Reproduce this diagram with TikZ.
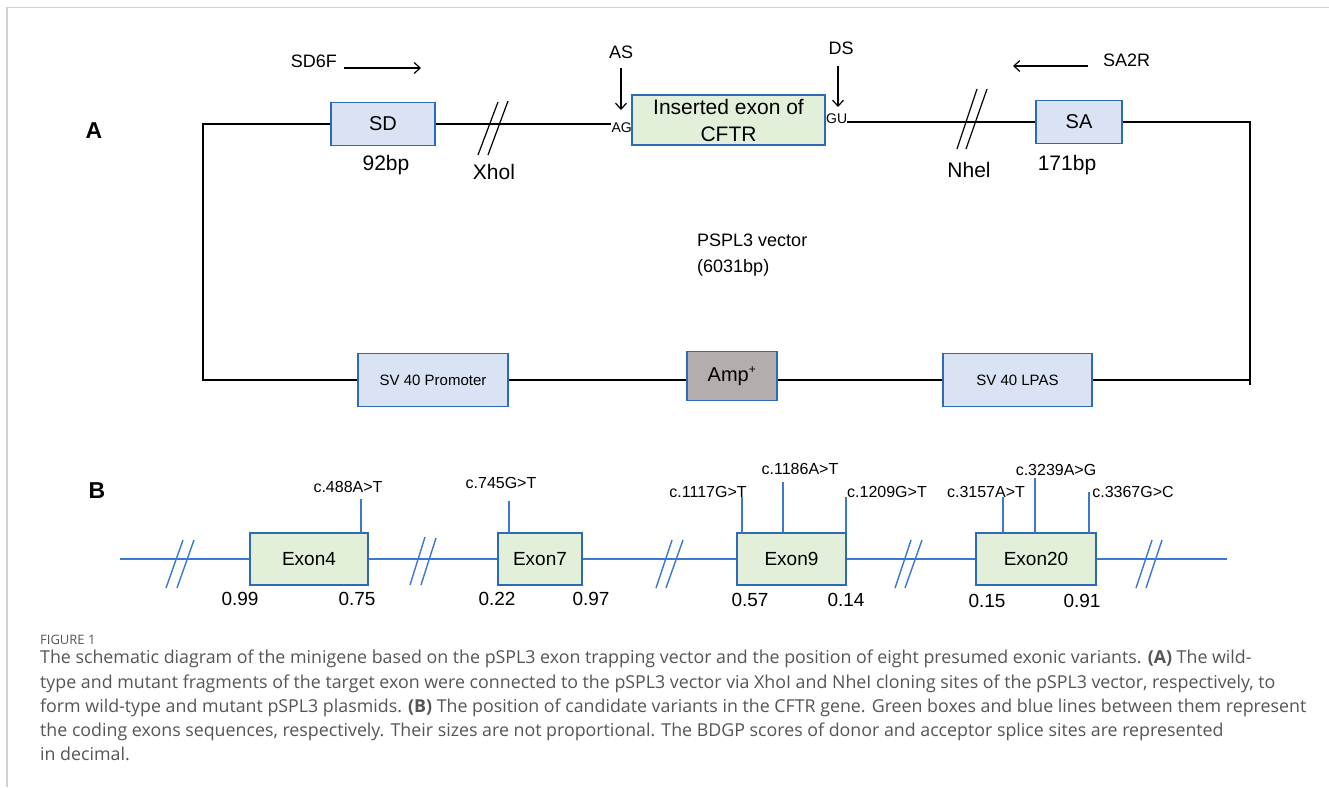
\documentclass[tikz,border=0pt]{standalone}
\usepackage{fontspec}
\setmainfont{Liberation Sans}
\newfontfamily\capfont{Open Sans}
\usetikzlibrary{arrows.meta}
\definecolor{boxblue}{HTML}{2E6AB8}
\definecolor{lblue}{HTML}{DAE3F3}
\definecolor{lgreen}{HTML}{E2F0D9}
\definecolor{ampgray}{HTML}{B3AEAC}
\definecolor{lineblue}{HTML}{3A78D4}
\definecolor{capgray}{HTML}{555555}
\definecolor{framegray}{HTML}{D0D0D0}
\tikzset{
  fs/.style={font=\fontsize{#1}{#1}\selectfont},
  lbl/.style={inner sep=0pt},
  blk/.style={draw=black, line width=1.3pt},
  bbox/.style={draw=boxblue, fill=lblue, line width=1.3pt, inner sep=0pt},
  gbox/.style={draw=boxblue, fill=lgreen, line width=1.3pt, inner sep=0pt},
  abox/.style={draw=boxblue, fill=ampgray, line width=1.3pt, inner sep=0pt},
  bln/.style={draw=lineblue, line width=1.5pt},
  arr/.style={draw=black, line width=1.2pt, -{Straight Barb[length=6pt,width=11pt,line width=1.2pt]}},
}
\begin{document}
\begin{tikzpicture}[x=1pt,y=-1pt]
\useasboundingbox (0,0) rectangle (1329,787);
\fill[white] (0,0) rectangle (1329,787);
\draw[framegray, line width=1.2pt] (7,787) -- (7,7.5) -- (1329,7.5);

% ---------- Part A ----------
\node[lbl, font=\bfseries\fontsize{23}{23}\selectfont] (labA) at (94,131) {A};

\node[bbox, minimum width=104pt, minimum height=43pt, fs=20] (sd) at (383,124) {SD};
\node[gbox, minimum width=193pt, minimum height=50pt, align=center, font=\fontsize{21}{27}\selectfont] (ins) at (728.5,120) {Inserted exon of\\CFTR};
\node[bbox, minimum width=86pt, minimum height=43pt, fs=20] (sa) at (1079,122) {SA};
\node[bbox, minimum width=150pt, minimum height=53pt, fs=15] (prom) at (433,380) {SV 40 Promoter};
\node[abox, minimum width=90pt, minimum height=49pt, fs=20] (amp) at (732,376) {Amp\textsuperscript{\fontsize{12}{12}\selectfont +}};
\node[bbox, minimum width=149pt, minimum height=53pt, fs=15] (lpas) at (1017.5,380) {SV 40 LPAS};

\node[lbl, fs=14, anchor=east] (ag) at (632,128) {AG};
\node[lbl, fs=14, anchor=west] (gu) at (826,119) {GU};

\coordinate (tl) at (203,124);
\coordinate (bl) at (203,380);
\coordinate (tr) at (1250,122);
\coordinate (br) at (1250,380);
\coordinate (bre) at (1250,385);

\draw[blk] (sd.east) -- (ag.west |- sd.east);
\draw[blk] (gu.east |- sa.west) -- (sa.west);
\draw[blk] (sd.west) -- (tl) -- (bl) -- (prom.west);
\draw[blk] (sa.east) -- (tr) -- (bre);
\draw[blk] (prom.east) -- (prom.east -| amp.west);
\draw[blk] (amp.east |- lpas.west) -- (lpas.west);
\draw[blk] (lpas.east) -- (br);

% double slashes
\draw[black, line width=1.2pt] (478,155) -- (498,102) (488,155) -- (508,101);
\draw[black, line width=1.2pt] (957,149) -- (977,89) (966,149) -- (987,89);

\node[lbl, fs=21] (bp92) at (386,165) {92bp};
\node[lbl, fs=21] (xhol) at (494,172) {Xhol};
\node[lbl, fs=21] (nhel) at (969,170) {Nhel};
\node[lbl, fs=21] (bp171) at (1067,165) {171bp};

\node[lbl, fs=18] (as) at (621,52) {AS};
\node[lbl, fs=18] (ds) at (841,48) {DS};
\coordinate (asend) at (621,110);
\coordinate (dsend) at (838,107);
\draw[arr] (621,68) -- (asend);
\draw[arr] (838,66) -- (dsend);

\node[lbl, fs=18, anchor=east] (sd6f) at (337,61) {SD6F};
\coordinate (sd6fend) at (421,68);
\draw[arr] (344,68) -- (sd6fend);
\node[lbl, fs=18, anchor=west] (sa2r) at (1103,60) {SA2R};
\coordinate (sa2rend) at (1013,66);
\draw[arr] (1088,66) -- (sa2rend);

\node[lbl, anchor=west, align=left, font=\fontsize{18}{26}\selectfont] (vec) at (697,255) {PSPL3 vector\\(6031bp)};

% ---------- Part B ----------
\node[lbl, font=\bfseries\fontsize{23}{23}\selectfont] (labB) at (97,491) {B};

\node[gbox, minimum width=118pt, minimum height=52pt, fs=19] (e4) at (309,559) {Exon4};
\node[gbox, minimum width=84pt, minimum height=52pt, fs=19] (e7) at (540,559) {Exon7};
\node[gbox, minimum width=109pt, minimum height=52pt, fs=19] (e9) at (791.5,559) {Exon9};
\node[gbox, minimum width=120pt, minimum height=52pt, fs=19] (e20) at (1036,559) {Exon20};

\coordinate (bstart) at (120,559);
\coordinate (bend) at (1227,559);
\draw[bln] (bstart) -- (e4.west);
\draw[bln] (e4.east) -- (e7.west);
\draw[bln] (e7.east) -- (e9.west);
\draw[bln] (e9.east) -- (e20.west);
\draw[bln] (e20.east) -- (bend);

% blue double slashes
\draw[lineblue, line width=1.4pt] (166,588) -- (183,540) (177,588) -- (194,540);
\draw[lineblue, line width=1.4pt] (410,585) -- (425,537) (421,585) -- (436,538);
\draw[lineblue, line width=1.4pt] (656,588) -- (672,540) (666,588) -- (683,540);
\draw[lineblue, line width=1.4pt] (895,588) -- (911,540) (905,588) -- (922,540);
\draw[lineblue, line width=1.4pt] (1136,588) -- (1152,540) (1146,588) -- (1162,540);

% variant ticks
\draw[bln] (361,533) -- (361,499);
\draw[bln] (509,533) -- (509,501);
\draw[bln] (742,533) -- (742,497);
\draw[bln] (783,533) -- (783,482);
\draw[bln] (846,533) -- (846,497);
\draw[bln] (1003,533) -- (1003,497);
\draw[bln] (1035,533) -- (1035,478);
\draw[bln] (1089,533) -- (1089,492);

\node[lbl, fs=16] (v488) at (348,487) {c.488A>T};
\node[lbl, fs=16] (v745) at (501,483) {c.745G>T};
\node[lbl, fs=16] (v1117) at (708,492) {c.1117G>T};
\node[lbl, fs=16] (v1186) at (800,469) {c.1186A>T};
\node[lbl, fs=16] (v1209) at (887,492) {c.1209G>T};
\node[lbl, fs=16] (v3157) at (986,492) {c.3157A>T};
\node[lbl, fs=16] (v3239) at (1056,470) {c.3239A>G};
\node[lbl, fs=16] (v3367) at (1133,492) {c.3367G>C};

\node[lbl, fs=19] (s1) at (240,599) {0.99};
\node[lbl, fs=19] (s2) at (357,599) {0.75};
\node[lbl, fs=19] (s3) at (497,599) {0.22};
\node[lbl, fs=19] (s4) at (591,599) {0.97};
\node[lbl, fs=19] (s5) at (750,600) {0.57};
\node[lbl, fs=19] (s6) at (846,600) {0.14};
\node[lbl, fs=19] (s7) at (987,601) {0.15};
\node[lbl, fs=19] (s8) at (1082,601) {0.91};

% ---------- Caption ----------
\node[lbl, anchor=west, text=capgray, font=\capfont\fontsize{13}{13}\selectfont] (fig) at (40,640) {FIGURE 1};
\node[lbl, anchor=north west, align=left, text=capgray, font=\capfont\fontsize{17.8}{24.2}\selectfont] (cap) at (40,650) {The schematic diagram of the minigene based on the pSPL3 exon trapping vector and the position of eight presumed exonic variants. \textbf{(A)} The wild-\\type and mutant fragments of the target exon were connected to the pSPL3 vector via XhoI and NheI cloning sites of the pSPL3 vector, respectively, to\\form wild-type and mutant pSPL3 plasmids. \textbf{(B)} The position of candidate variants in the CFTR gene. Green boxes and blue lines between them represent\\the coding exons sequences, respectively. Their sizes are not proportional. The BDGP scores of donor and acceptor splice sites are represented\\in decimal.};
\end{tikzpicture}
\end{document}
